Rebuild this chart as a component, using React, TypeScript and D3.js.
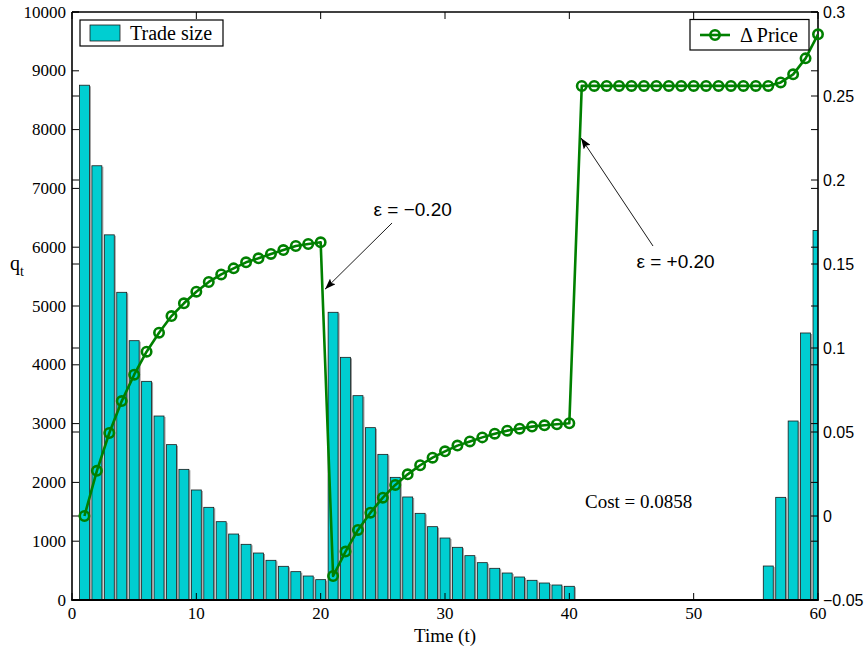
import React, { useEffect, useRef } from 'react';
import * as d3 from 'd3';

// trade size per period t = 1..60 (left axis)
const tradeSize = [
  8755, 7385, 6210, 5233, 4410, 3719, 3129, 2642, 2222, 1871,
  1576, 1332, 1122, 947, 799, 675, 573, 482, 408, 346,
  4893, 4127, 3475, 2931, 2477, 2086, 1752, 1474, 1247, 1054,
  896, 754, 635, 539, 459, 391, 335, 289, 255, 233,
  0, 0, 0, 0, 0, 0, 0, 0, 0, 0,
  0, 0, 0, 0, 0, 578, 1746, 3044, 4541, 6285
];

// price change per period t = 1..60 (right axis)
const priceChange = [
  0, 0.0269, 0.0494, 0.0684, 0.0841, 0.0978, 0.1091, 0.119, 0.1266, 0.1335,
  0.1393, 0.1438, 0.1474, 0.151, 0.1534, 0.156, 0.1583, 0.1607, 0.1619, 0.1629,
  -0.0357, -0.0212, -0.0083, 0.002, 0.0109, 0.0185, 0.0248, 0.0302, 0.0347, 0.0385,
  0.0419, 0.0444, 0.0468, 0.049, 0.0508, 0.052, 0.0532, 0.054, 0.0546, 0.0552,
  0.256, 0.256, 0.256, 0.256, 0.256, 0.256, 0.256, 0.256, 0.256, 0.256,
  0.256, 0.256, 0.256, 0.256, 0.256, 0.256, 0.2581, 0.2629, 0.2724, 0.2867
];

const leftTicks = [0, 1000, 2000, 3000, 4000, 5000, 6000, 7000, 8000, 9000, 10000];
const rightTicks = [-0.05, 0, 0.05, 0.1, 0.15, 0.2, 0.25, 0.3];
const rightTickLabels = ['\u22120.05', '0', '0.05', '0.1', '0.15', '0.2', '0.25', '0.3'];
const timeTicks = [0, 10, 20, 30, 40, 50, 60];

const SERIF = "'Liberation Serif', 'Times New Roman', serif";
const SANS = "'Liberation Sans', Arial, sans-serif";

function App() {
  const ref = useRef<SVGSVGElement>(null);
  const width = 867;
  const height = 647;
  const margin = { top: 12, right: 49, bottom: 47, left: 72 };

  useEffect(() => {
    const svg = d3.select(ref.current);
    svg.selectAll('*').remove();

    const x = d3.scaleLinear().domain([0, 60]).range([margin.left, width - margin.right]);
    const yL = d3.scaleLinear().domain([0, 10000]).range([height - margin.bottom, margin.top]);
    const yR = d3.scaleLinear().domain([-0.05, 0.3]).range([height - margin.bottom, margin.top]);
    const x0 = x(0), x1 = x(60), yb = yL(0), yt = yL(10000);
    const tick = 7;
    const green = '#008000';

    const defs = svg.append('defs');
    defs.append('clipPath').attr('id', 'plot-clip')
      .append('rect').attr('x', x0).attr('y', yt).attr('width', x1 - x0).attr('height', yb - yt);
    defs.append('marker')
      .attr('id', 'arrow')
      .attr('markerUnits', 'userSpaceOnUse')
      .attr('markerWidth', 12).attr('markerHeight', 8)
      .attr('refX', 11).attr('refY', 4)
      .attr('orient', 'auto')
      .append('path').attr('d', 'M0,0 L11,4 L0,8 L2,4 z').attr('fill', '#000');

    svg.append('rect').attr('width', width).attr('height', height).attr('fill', '#fff');

    // bars
    const bw = (x(1) - x(0)) * 0.8;
    const bars = svg.append('g').attr('clip-path', 'url(#plot-clip)');
    tradeSize.forEach((v, i) => {
      if (v <= 0) return;
      const cx = x(i + 1);
      bars.append('line')
        .attr('x1', cx + bw / 2 + 0.9).attr('x2', cx + bw / 2 + 0.9)
        .attr('y1', yL(v) + 1).attr('y2', yb)
        .attr('stroke', '#9c9c9c').attr('stroke-width', 1.2);
      bars.append('rect')
        .attr('x', cx - bw / 2).attr('y', yL(v))
        .attr('width', bw).attr('height', yb - yL(v))
        .attr('fill', '#00CED1').attr('stroke', '#1a1a1a').attr('stroke-width', 0.8);
    });

    // axes box + ticks
    const axes = svg.append('g').attr('stroke', '#000').attr('stroke-width', 1);
    leftTicks.forEach(v => {
      axes.append('line').attr('x1', x0).attr('x2', x0 + tick).attr('y1', yL(v)).attr('y2', yL(v));
      axes.append('line').attr('x1', x1).attr('x2', x1 - tick).attr('y1', yL(v)).attr('y2', yL(v));
    });
    rightTicks.forEach(v => {
      axes.append('line').attr('x1', x0).attr('x2', x0 + tick).attr('y1', yR(v)).attr('y2', yR(v));
      axes.append('line').attr('x1', x1).attr('x2', x1 - tick).attr('y1', yR(v)).attr('y2', yR(v));
    });
    timeTicks.forEach(v => {
      axes.append('line').attr('x1', x(v)).attr('x2', x(v)).attr('y1', yb).attr('y2', yb - tick);
      axes.append('line').attr('x1', x(v)).attr('x2', x(v)).attr('y1', yt).attr('y2', yt + tick);
    });
    axes.append('line').attr('x1', x0).attr('x2', x1).attr('y1', yt).attr('y2', yt).attr('stroke-width', 1.3);
    axes.append('line').attr('x1', x0).attr('x2', x0).attr('y1', yt).attr('y2', yb).attr('stroke-width', 1.6);
    axes.append('line').attr('x1', x1).attr('x2', x1).attr('y1', yt).attr('y2', yb).attr('stroke-width', 1.6);
    axes.append('line').attr('x1', x0 - 0.8).attr('x2', x1 + 0.8).attr('y1', yb).attr('y2', yb).attr('stroke-width', 2.2);

    // tick labels
    svg.append('g').selectAll('text').data(leftTicks).join('text')
      .attr('x', x0 - 6).attr('y', d => yL(d)).attr('dy', '0.33em')
      .attr('text-anchor', 'end').attr('font-family', SERIF).attr('font-size', 17)
      .text(d => String(d));
    svg.append('g').selectAll('text').data(rightTicks).join('text')
      .attr('x', x1 + 5).attr('y', d => yR(d)).attr('dy', '0.35em')
      .attr('text-anchor', 'start').attr('font-family', SANS).attr('font-size', 16)
      .text((d, i) => rightTickLabels[i]);
    svg.append('g').selectAll('text').data(timeTicks).join('text')
      .attr('x', d => x(d)).attr('y', yb + 19)
      .attr('text-anchor', 'middle').attr('font-family', SERIF).attr('font-size', 17)
      .text(d => String(d));

    // axis labels
    svg.append('text').attr('x', (x0 + x1) / 2).attr('y', height - 5)
      .attr('text-anchor', 'middle').attr('font-family', SERIF).attr('font-size', 19)
      .text('Time (t)');
    const ql = svg.append('text').attr('x', 10).attr('y', 270)
      .attr('font-family', SERIF).attr('font-size', 20);
    ql.append('tspan').text('q');
    ql.append('tspan').attr('dy', 6).attr('font-size', 14).text('t');

    // price line
    const line = d3.line<number>().x((d, i) => x(i + 1)).y(d => yR(d));
    svg.append('path').datum(priceChange)
      .attr('d', line).attr('fill', 'none')
      .attr('stroke', green).attr('stroke-width', 2.6).attr('stroke-linejoin', 'round');
    svg.append('g').selectAll('circle').data(priceChange).join('circle')
      .attr('cx', (d, i) => x(i + 1)).attr('cy', d => yR(d)).attr('r', 4.7)
      .attr('fill', 'none').attr('stroke', green).attr('stroke-width', 2.6);

    // annotations
    svg.append('line')
      .attr('x1', x(25.74)).attr('y1', yR(0.1744)).attr('x2', x(20.35)).attr('y2', yR(0.135))
      .attr('stroke', '#000').attr('stroke-width', 0.9).attr('marker-end', 'url(#arrow)');
    svg.append('text').attr('x', x(27.4)).attr('y', yR(0.1786))
      .attr('text-anchor', 'middle').attr('font-family', SANS).attr('font-size', 19)
      .text('\u03b5 = \u22120.20');
    svg.append('line')
      .attr('x1', x(46.73)).attr('y1', yR(0.1607)).attr('x2', x(40.94)).attr('y2', yR(0.225))
      .attr('stroke', '#000').attr('stroke-width', 0.9).attr('marker-end', 'url(#arrow)');
    svg.append('text').attr('x', x(48.54)).attr('y', yR(0.1476))
      .attr('text-anchor', 'middle').attr('font-family', SANS).attr('font-size', 19)
      .text('\u03b5 = +0.20');
    svg.append('text').attr('x', x(41.26)).attr('y', 508)
      .attr('font-family', SERIF).attr('font-size', 19)
      .text('Cost = 0.0858');

    // legends
    const lg1 = svg.append('g');
    lg1.append('rect').attr('x', 80).attr('y', 20).attr('width', 143).attr('height', 26)
      .attr('fill', '#fff').attr('stroke', '#000').attr('stroke-width', 1.2);
    lg1.append('rect').attr('x', 90).attr('y', 25).attr('width', 30).attr('height', 16)
      .attr('fill', '#00CED1').attr('stroke', '#1a1a1a').attr('stroke-width', 0.8);
    lg1.append('text').attr('x', 130).attr('y', 39.5)
      .attr('font-family', SERIF).attr('font-size', 20).text('Trade size');

    const lg2 = svg.append('g');
    lg2.append('rect').attr('x', 690).attr('y', 19.5).attr('width', 119).attr('height', 30.5)
      .attr('fill', '#fff').attr('stroke', '#000').attr('stroke-width', 1.2);
    lg2.append('line').attr('x1', 700).attr('x2', 730).attr('y1', 35).attr('y2', 35)
      .attr('stroke', green).attr('stroke-width', 2.6);
    lg2.append('circle').attr('cx', 715).attr('cy', 35).attr('r', 4.7)
      .attr('fill', 'none').attr('stroke', green).attr('stroke-width', 2.6);
    lg2.append('text').attr('x', 740).attr('y', 41.5)
      .attr('font-family', SERIF).attr('font-size', 20).text('\u0394 Price');
  }, []);

  return (
    <svg ref={ref} width={width} height={height}
      style={{ position: 'absolute', left: 0, top: 0 }} />
  );
}

export default App;
